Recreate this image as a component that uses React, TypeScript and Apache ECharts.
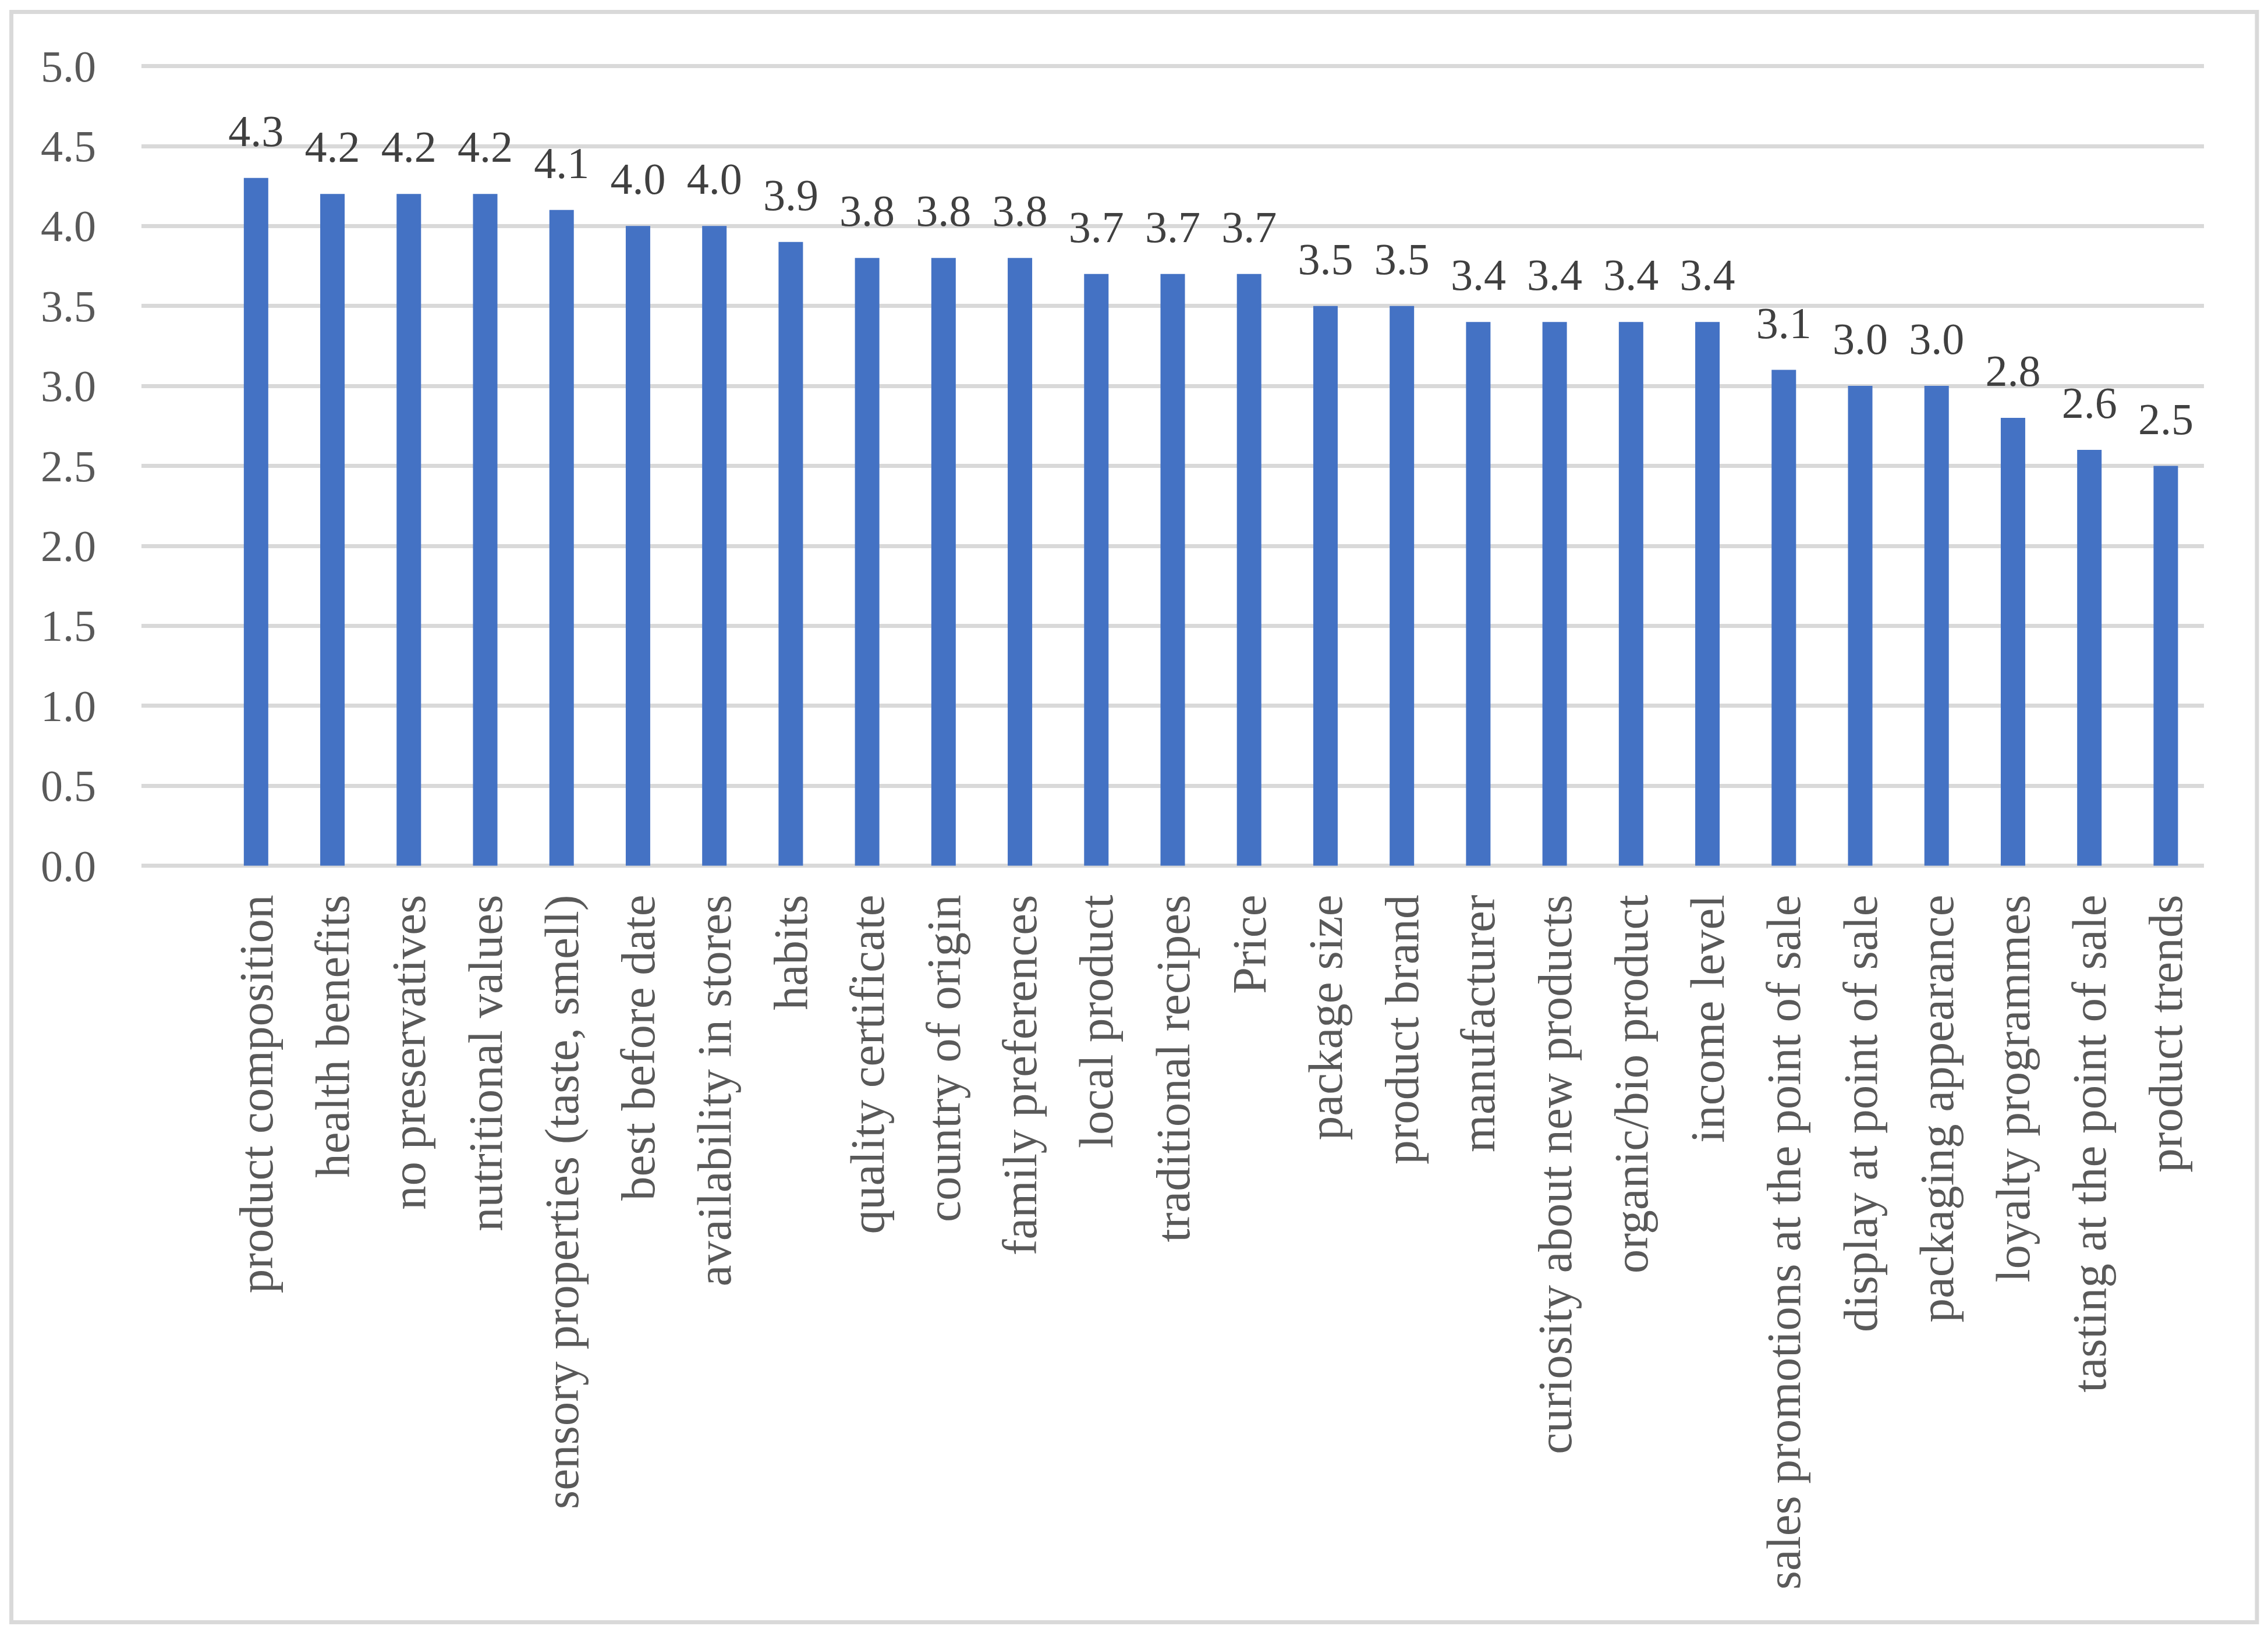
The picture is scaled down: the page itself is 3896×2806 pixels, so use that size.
import React, { useEffect, useRef } from "react";
import * as echarts from "echarts";

const categories: string[] = [
  "",
  "product composition",
  "health benefits",
  "no preservatives",
  "nutritional values",
  "sensory properties (taste, smell)",
  "best before date",
  "availability in stores",
  "habits",
  "quality certificate",
  "country of origin",
  "family preferences",
  "local product",
  "traditional recipes",
  "Price",
  "package size",
  "product brand",
  "manufacturer",
  "curiosity about new products",
  "organic/bio product",
  "income level",
  "sales promotions at the point of sale",
  "display at point of sale",
  "packaging appearance",
  "loyalty programmes",
  "tasting at the point of sale",
  "product trends",
];

const values: (number | null)[] = [
  null, 4.3, 4.2, 4.2, 4.2, 4.1, 4.0, 4.0, 3.9, 3.8, 3.8, 3.8, 3.7, 3.7, 3.7,
  3.5, 3.5, 3.4, 3.4, 3.4, 3.4, 3.1, 3.0, 3.0, 2.8, 2.6, 2.5,
];

const yMin = 0;
const yMax = 5;
const yInterval = 0.5;

const FONT = "'Liberation Serif', 'Times New Roman', serif";

export default function App() {
  const ref = useRef<HTMLDivElement>(null);

  useEffect(() => {
    if (!ref.current) return;
    const chart = echarts.init(ref.current, undefined, { renderer: "svg" });
    chart.setOption({
      animation: false,
      backgroundColor: "#ffffff",
      graphic: [
        {
          type: "rect",
          shape: { x: 19.5, y: 20.5, width: 3857.5, height: 2767 },
          style: { fill: "none", stroke: "#d9d9d9", lineWidth: 7 },
          silent: true,
        },
      ],
      grid: {
        left: 243,
        right: 110,
        top: 113.5,
        bottom: 1318.5,
        containLabel: false,
      },
      xAxis: {
        type: "category",
        data: categories,
        axisLine: { show: false },
        axisTick: { show: false },
        axisLabel: {
          interval: 0,
          rotate: 90,
          margin: 50,
          color: "#595959",
          fontFamily: FONT,
          fontSize: 83,
        },
      },
      yAxis: {
        type: "value",
        min: yMin,
        max: yMax,
        interval: yInterval,
        axisLine: { show: false },
        axisTick: { show: false },
        axisLabel: {
          margin: 78,
          color: "#595959",
          fontFamily: FONT,
          fontSize: 76,
          formatter: (v: number) => v.toFixed(1),
        },
        splitLine: { lineStyle: { color: "#d9d9d9", width: 7 } },
      },
      series: [
        {
          type: "bar",
          data: values,
          barWidth: 42,
          itemStyle: { color: "#4472c4" },
          label: {
            show: true,
            position: "top",
            distance: 43,
            color: "#404040",
            fontFamily: FONT,
            fontSize: 76,
            formatter: (p: any) => (p.value == null ? "" : Number(p.value).toFixed(1)),
          },
        },
      ],
    });
    return () => chart.dispose();
  }, []);

  return (
    <div
      ref={ref}
      style={{ position: "fixed", left: 0, top: 0, width: 3896, height: 2806 }}
    />
  );
}
